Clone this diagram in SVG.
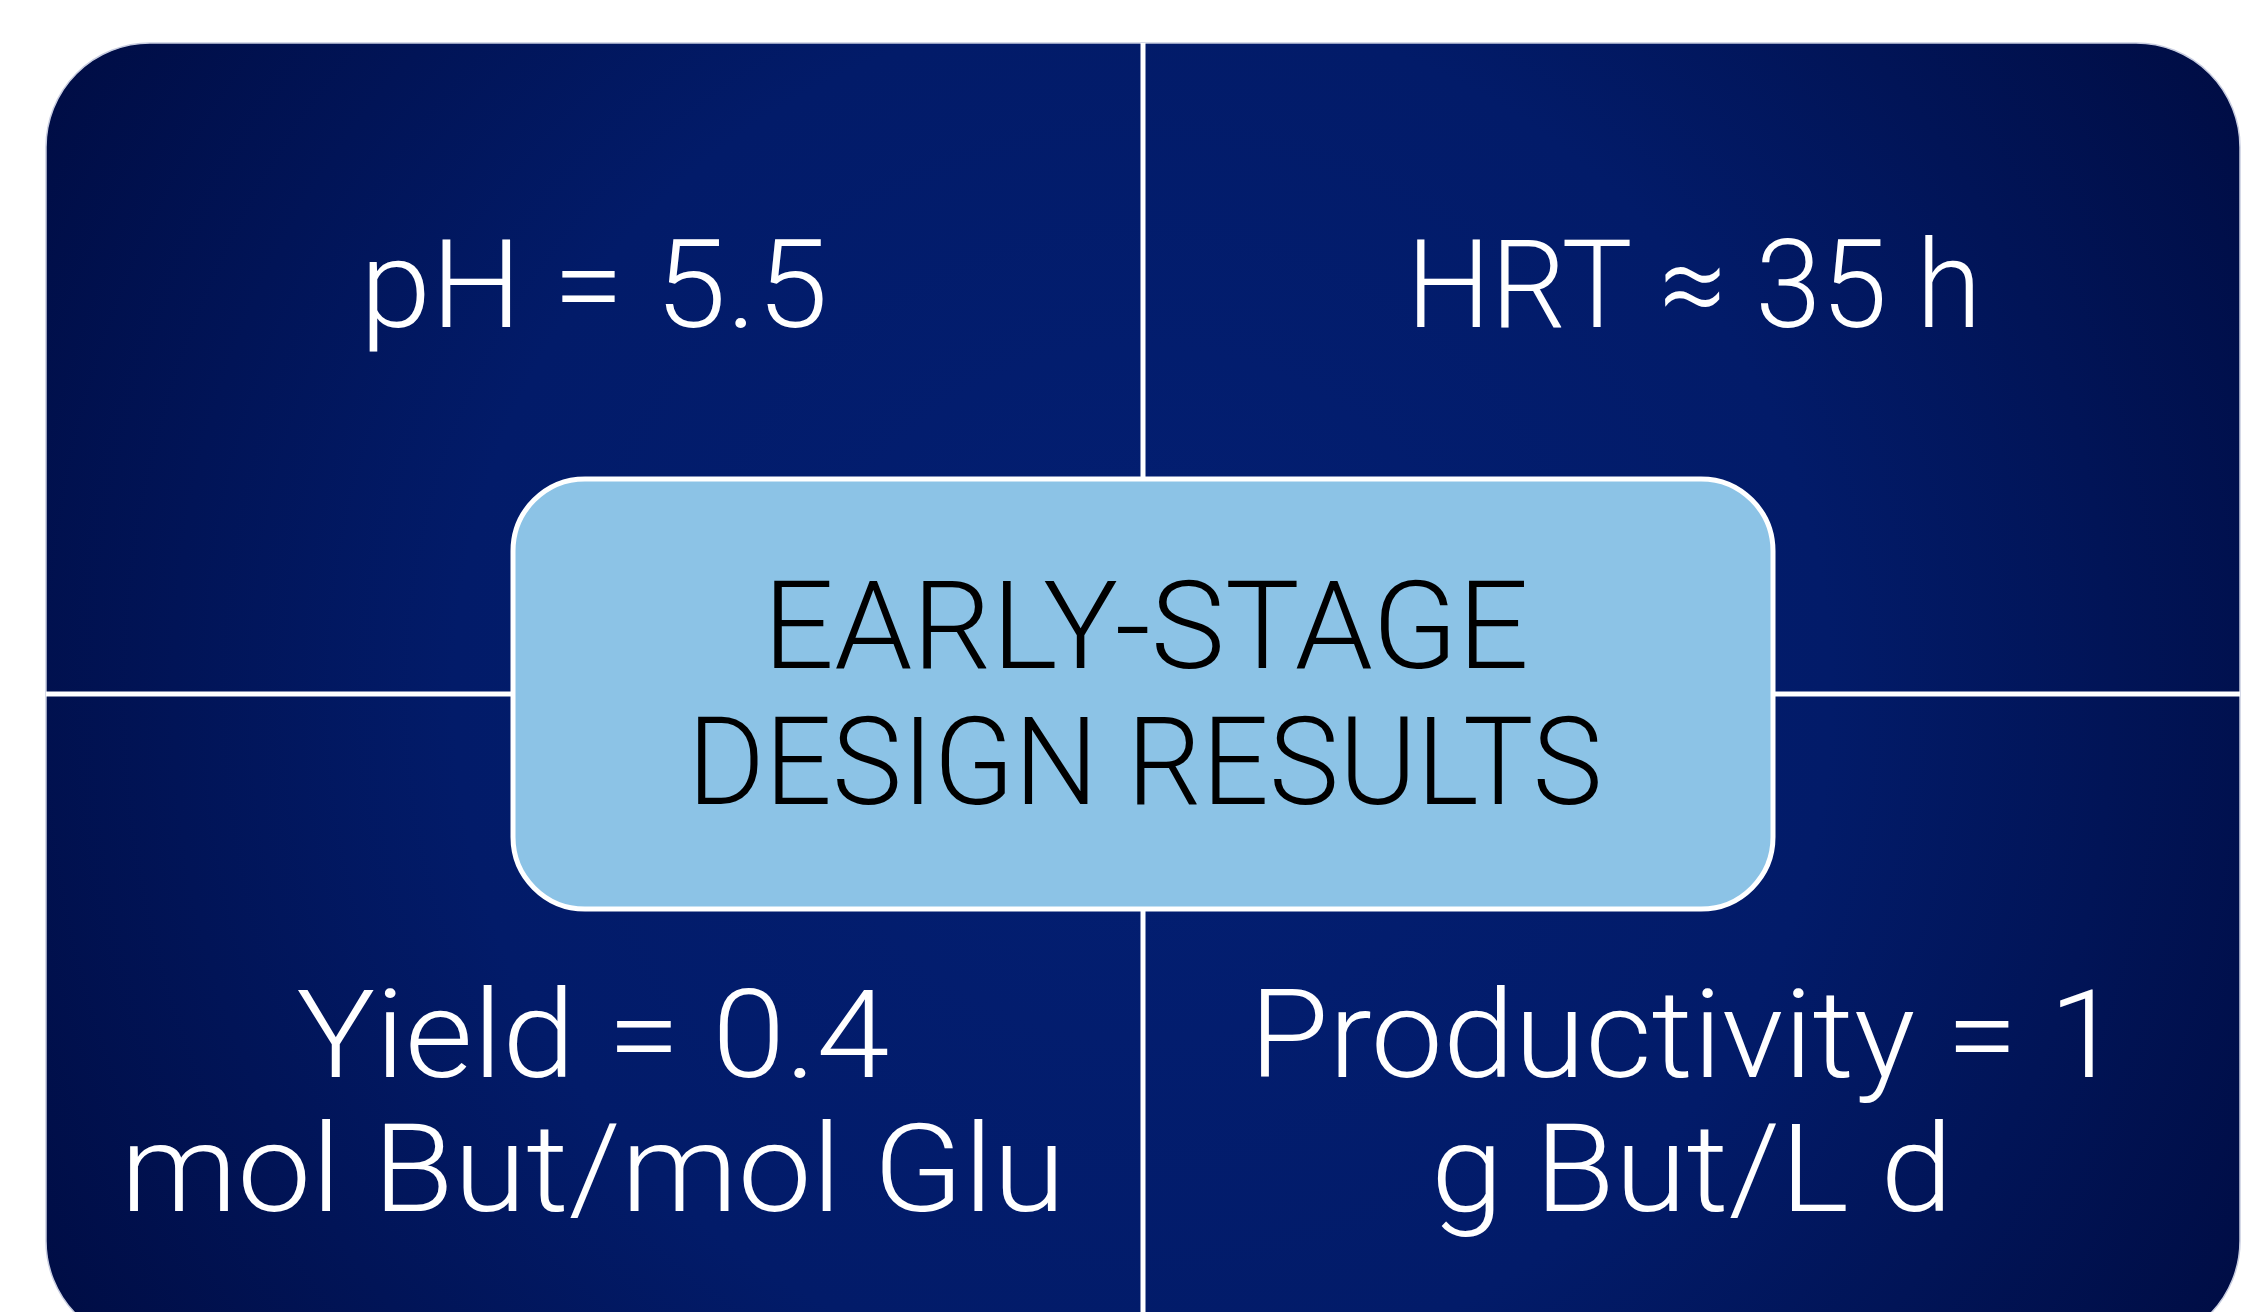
<svg xmlns="http://www.w3.org/2000/svg" width="2268" height="1312" viewBox="0 0 2268 1312">
  <defs>
    <radialGradient id="bg" gradientUnits="userSpaceOnUse" cx="1143" cy="694" r="1250">
      <stop offset="0" stop-color="#031f73"/>
      <stop offset="0.55" stop-color="#021b69"/>
      <stop offset="1" stop-color="#000d45"/>
    </radialGradient>
    <clipPath id="outerClip">
      <rect x="46" y="43" width="2194" height="1302" rx="104" ry="104"/>
    </clipPath>
  </defs>
  <style>
    .quad { fill: url(#bg); }
    .div { stroke: #ffffff; stroke-width: 5; fill: none; }
    text { font-family: "Roboto", "Liberation Sans", sans-serif; font-weight: 300; font-size: 123px; text-anchor: middle; font-variant-ligatures: none; }
    .lbl { fill: #ffffff; }
    .ctr { fill: #000000; }
    .box { fill: #8cc3e6; stroke: #ffffff; stroke-width: 5; }
  </style>
  <rect width="2268" height="1312" fill="#ffffff"/>
  <g id="background">
    <rect class="quad" x="46" y="43" width="2194" height="1302" rx="104" ry="104" stroke="#c8cde0" stroke-width="1.5"/>
  </g>
  <g id="connectors" clip-path="url(#outerClip)">
    <line class="div" x1="1143" y1="40" x2="1143" y2="1320"/>
    <line class="div" x1="40" y1="694" x2="2245" y2="694"/>
  </g>
  <g id="q-ph">
    <text class="lbl" x="594" y="327" textLength="468" lengthAdjust="spacingAndGlyphs">pH = 5.5</text>
  </g>
  <g id="q-hrt">
    <text class="lbl" x="1694" y="327" textLength="575" lengthAdjust="spacingAndGlyphs">HRT ≈ 35 h</text>
  </g>
  <g id="q-yield">
    <text class="lbl" x="593" y="1077" textLength="593" lengthAdjust="spacingAndGlyphs">Yield = 0.4</text>
    <text class="lbl" x="593" y="1211" textLength="945" lengthAdjust="spacingAndGlyphs">mol But/mol Glu</text>
  </g>
  <g id="q-productivity">
    <text class="lbl" x="1685" y="1077" textLength="871" lengthAdjust="spacingAndGlyphs">Productivity = 1</text>
    <text class="lbl" x="1692" y="1211" textLength="522" lengthAdjust="spacingAndGlyphs">g But/L d</text>
  </g>
  <g id="center">
    <rect class="box" x="513" y="479" width="1260" height="430" rx="72" ry="72"/>
    <text class="ctr" x="1146" y="668" textLength="766" lengthAdjust="spacingAndGlyphs">EARLY-STAGE</text>
    <text class="ctr" x="1145" y="804" textLength="915" lengthAdjust="spacingAndGlyphs">DESIGN RESULTS</text>
  </g>
</svg>
